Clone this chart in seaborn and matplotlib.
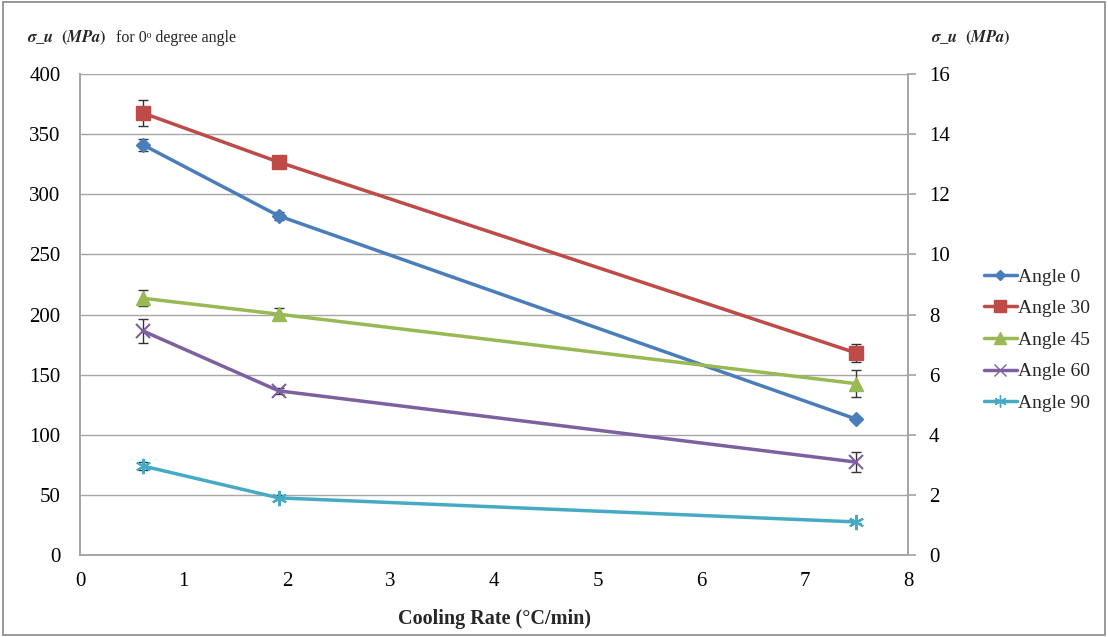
import numpy as np
import pandas as pd
import matplotlib
matplotlib.use("Agg")
import matplotlib.pyplot as plt
import seaborn as sns
from matplotlib.lines import Line2D
from matplotlib.patches import Rectangle

cooling_rate = [0.61, 1.92, 7.5]
angle0 = [341, 282, 113]          # left axis
angle0_err = [5, 3, 0]
angle30 = [14.7, 13.07, 6.72]     # right axis
angle30_err = [0.42, 0.0, 0.3]
angle45 = [8.54, 8.01, 5.70]
angle45_err = [0.26, 0.2, 0.45]
angle60 = [7.45, 5.46, 3.09]
angle60_err = [0.4, 0.1, 0.33]
angle90 = [2.96, 1.9, 1.1]
angle90_err = [0.12, 0.08, 0.05]

series_names = ["Angle 0", "Angle 30", "Angle 45", "Angle 60", "Angle 90"]
colors = ["#4A7EBB", "#BE4B48", "#98B954", "#7D60A0", "#46AAC5"]
markers = ["D", "s", "^", "x", (6, 2, 0)]
msizes = [7, 10, 10, 10, 11]

sns.set_theme(style="white")
plt.rcParams['font.family'] = ['Liberation Serif', 'DejaVu Serif']
plt.rcParams['mathtext.fontset'] = 'stix'

fig = plt.figure(figsize=(11.08, 6.37), dpi=100)
ax = fig.add_axes([80/1108, 1-555/637, 828/1108, 481/637])
ax2 = ax.twinx()

data = {
    "Angle 0": (angle0, angle0_err, ax),
    "Angle 30": (angle30, angle30_err, ax2),
    "Angle 45": (angle45, angle45_err, ax2),
    "Angle 60": (angle60, angle60_err, ax2),
    "Angle 90": (angle90, angle90_err, ax2),
}

handles = []
for name, c, m, ms in zip(series_names, colors, markers, msizes):
    vals, errs, a = data[name]
    df = pd.DataFrame({"x": cooling_rate, "y": vals})
    a.errorbar(df["x"], df["y"], yerr=errs, fmt="none", ecolor="#333333",
               elinewidth=1, capsize=3.5, capthick=1, zorder=3)
    sns.lineplot(data=df, x="x", y="y", ax=a, color=c, linewidth=2.5,
                 marker=m, markersize=ms, markeredgecolor=c,
                 markeredgewidth=1.5 if m in ("x", (6, 2, 0)) else 1,
                 legend=False, zorder=4)
    handles.append(Line2D([0], [0], color=c, lw=2.5, marker=m, markersize=ms*0.8,
                          markeredgecolor=c, label=name))

ax.set_xlim(0, 8)
ax.set_ylim(0, 400)
ax2.set_ylim(0, 16)
ax.set_xticks(range(0, 9))
ax.set_yticks(range(0, 401, 50))
ax2.set_yticks(range(0, 17, 2))
ax.yaxis.grid(True, color="#A6A6A6", lw=1)
ax.set_axisbelow(True)
ax.set_xlabel("")
ax.set_ylabel("")
ax2.set_xlabel("")
ax2.set_ylabel("")

for a in (ax, ax2):
    for s in a.spines.values():
        s.set_color("#A6A6A6")
    a.spines["top"].set_visible(False)
    a.tick_params(labelsize=15, colors="black", length=0)
ax.tick_params(axis="x", pad=12)
ax2.tick_params(axis="y", length=6, color="#A6A6A6", direction="out", pad=9)
ax.tick_params(axis="y", length=0, pad=14)

ax.set_xlabel("Cooling Rate (°C/min)", fontsize=14.5, fontweight="bold", labelpad=13)

fig.text(27/1108, 1-38/637, r"$\boldsymbol{\sigma\_u}$  $\boldsymbol{(MPa)}$", fontsize=12,
         va="center", ha="left")
fig.text(116/1108, 1-38/637, "for 0ᵒ degree angle", fontsize=11.5, va="center", ha="left")
fig.text(931/1108, 1-38/637, r"$\boldsymbol{\sigma\_u}$  $\boldsymbol{(MPa)}$", fontsize=12,
         va="center", ha="left")

fig.legend(handles=handles, loc="center left", bbox_to_anchor=(966/1108, 1-340/637),
           frameon=False, fontsize=14, handlelength=1.7, handletextpad=0.05,
           labelspacing=0.72)

fig.patches.append(Rectangle((0.003, 0.003), 0.994, 0.994, transform=fig.transFigure,
                             fill=False, edgecolor="#888888", lw=1.2))

fig.savefig("out.png", dpi=100)
